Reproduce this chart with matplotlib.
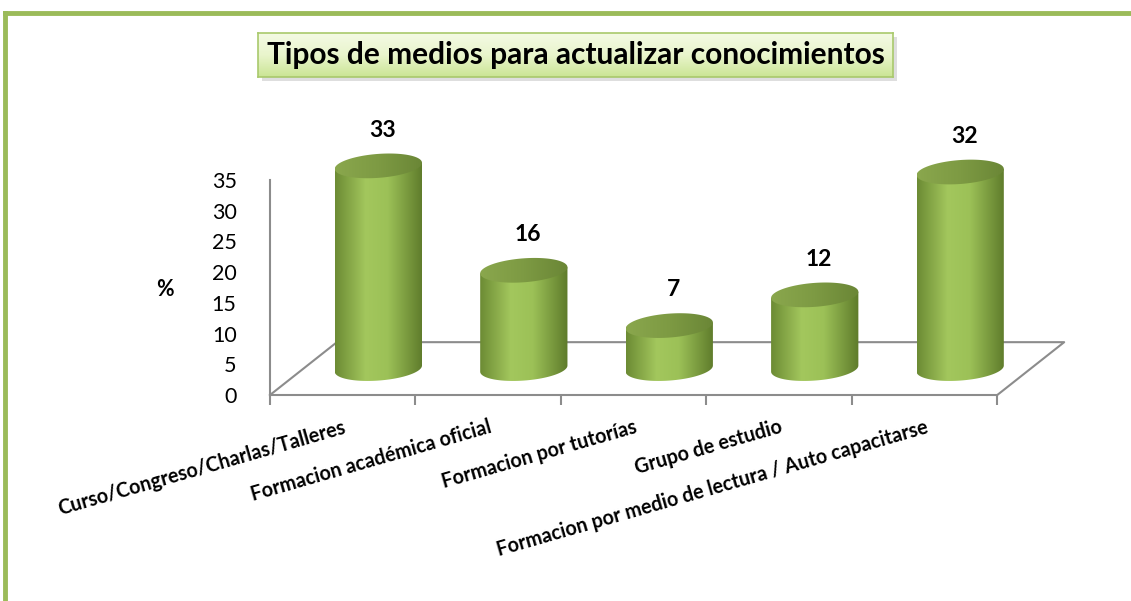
import numpy as np
import matplotlib
matplotlib.use("Agg")
import matplotlib.pyplot as plt
from matplotlib.path import Path
from matplotlib.patches import PathPatch, Rectangle
from matplotlib.colors import LinearSegmentedColormap
from matplotlib.lines import Line2D

plt.rcParams['font.family'] = ['Lato', 'DejaVu Sans']

# ---------------- datos ----------------
TITLE = 'Tipos de medios para actualizar conocimientos'
CATEGORIES = ['Curso/Congreso/Charlas/Talleres',
              'Formacion académica oficial',
              'Formacion por tutorías',
              'Grupo de estudio',
              'Formacion por medio de lectura / Auto capacitarse']
VALUES = [33, 16, 7, 12, 32]
Y_TICKS = [0, 5, 10, 15, 20, 25, 30, 35]
Y_LABEL = '%'

# ---------------- estilo ----------------
W, H = 1131, 601
GREEN = '#9bbb59'
GRID_GRAY = '#8c8c8c'
DX, DY = 0.46, 8.6          # profundidad del piso (unidades de datos)
A, B, S = 0.30, 1.95, 0.5   # semiancho, semialto de elipse, inclinacion

body_cmap = LinearSegmentedColormap.from_list(
    'body', [(0.0, '#6c8b34'), (0.35, '#a3c75d'), (0.6, '#9cc157'), (1.0, '#5e7b2b')])
top_cmap = LinearSegmentedColormap.from_list(
    'top', [(0.0, '#8aa74d'), (0.5, '#7d9a43'), (1.0, '#6a8636')])
title_cmap = LinearSegmentedColormap.from_list('title', ['#cbe595', '#e9f5cc', '#f4fae4'])

fig = plt.figure(figsize=(W / 100, H / 100), dpi=100)
fig.patch.set_facecolor('white')

# marco verde
fig.add_artist(Line2D([5 / W, 1], [1 - 13 / H, 1 - 13 / H], color=GREEN, lw=3.5,
                      transform=fig.transFigure))
fig.add_artist(Line2D([5 / W, 5 / W], [1 - 13 / H, 0], color=GREEN, lw=3.5,
                      transform=fig.transFigure))

# ---------------- eje principal ----------------
ax = fig.add_axes([270 / W, (H - 395) / H, 800 / W, 258 / H])
ax.set_facecolor('none')

# piso 3D
ax.plot([-0.5, -0.5 + DX, 4.5 + DX, 4.5], [0, DY, DY, 0], color=GRID_GRAY, lw=1.5,
        zorder=1, clip_on=False)

grad = np.linspace(0, 1, 256).reshape(1, -1)
for i, v in enumerate(VALUES):
    cx = i + DX / 2 + 0.015
    base = DY / 2
    top = base + v

    t = np.linspace(np.pi, 2 * np.pi, 80)
    arc = np.column_stack([cx + A * np.cos(t), base + B * np.sin(t) + S * np.cos(t)])
    verts = np.vstack([[cx - A, top - S], arc, [cx + A, top + S], [cx - A, top - S]])
    body = PathPatch(Path(verts, closed=True), fc='none', ec='none')
    ax.add_patch(body)
    im = ax.imshow(grad, cmap=body_cmap, extent=(cx - A, cx + A, base - B - S - 0.5, top + S + 0.5),
                   aspect='auto', origin='lower', zorder=3 + i, interpolation='bilinear')
    im.set_clip_path(body)

    t2 = np.linspace(0, 2 * np.pi, 120)
    ell = np.column_stack([cx + A * np.cos(t2), top + B * np.sin(t2) + S * np.cos(t2)])
    cap = PathPatch(Path(ell, closed=True), fc='none', ec='none')
    ax.add_patch(cap)
    im2 = ax.imshow(grad, cmap=top_cmap, extent=(cx - A, cx + A, top - B - S, top + B + S),
                    aspect='auto', origin='lower', zorder=3.5 + i, interpolation='bilinear')
    im2.set_clip_path(cap)

    ax.text(cx + 0.03, top + 5.8, str(v), ha='center', va='center', fontsize=16.5,
            fontweight='bold', color='black')

ax.set_xlim(-0.5, 5.0)
ax.set_ylim(0, 42)

ax.set_xticks(range(len(CATEGORIES)))
ax.set_xticklabels(CATEGORIES, rotation=16, ha='right', rotation_mode='anchor',
                   fontsize=14.2, fontweight='bold')
ax.set_xticks(np.arange(-0.5, 5, 1), minor=True)
ax.tick_params(axis='x', which='major', length=0, pad=16)
ax.tick_params(axis='x', which='minor', length=7, width=1.5, color=GRID_GRAY)

ax.set_yticks(Y_TICKS)
ax.tick_params(axis='y', length=0, pad=24, labelsize=15.5)

for side in ('top', 'right'):
    ax.spines[side].set_visible(False)
for side in ('left', 'bottom'):
    ax.spines[side].set_color(GRID_GRAY)
    ax.spines[side].set_linewidth(1.5)
ax.spines['left'].set_bounds(0, 35)
ax.spines['bottom'].set_bounds(-0.5, 4.5)

ax.set_ylabel(Y_LABEL, rotation=0, fontsize=15.5, fontweight='bold', va='center', ha='center')
ax.yaxis.set_label_coords(-0.131, 0.407)

# ---------------- titulo en recuadro ----------------
fig.add_artist(Rectangle((262 / W, (H - 81) / H), 635 / W, 44 / H, transform=fig.transFigure,
                         fc='#c8c8c8', ec='none', alpha=0.6, zorder=-1))
tax = fig.add_axes([258 / W, (H - 77) / H, 635 / W, 44 / H])
tax.imshow(np.linspace(0, 1, 64).reshape(-1, 1), cmap=title_cmap, aspect='auto', origin='lower',
           extent=(0, 1, 0, 1))
tax.set_xticks([])
tax.set_yticks([])
for sp in tax.spines.values():
    sp.set_color('#a9c96c')
    sp.set_linewidth(1.2)
tax.text(0.5, 0.5, TITLE, transform=tax.transAxes, ha='center', va='center',
         fontsize=21.5, fontweight='bold', color='black')

fig.savefig('out.png', dpi=100)
